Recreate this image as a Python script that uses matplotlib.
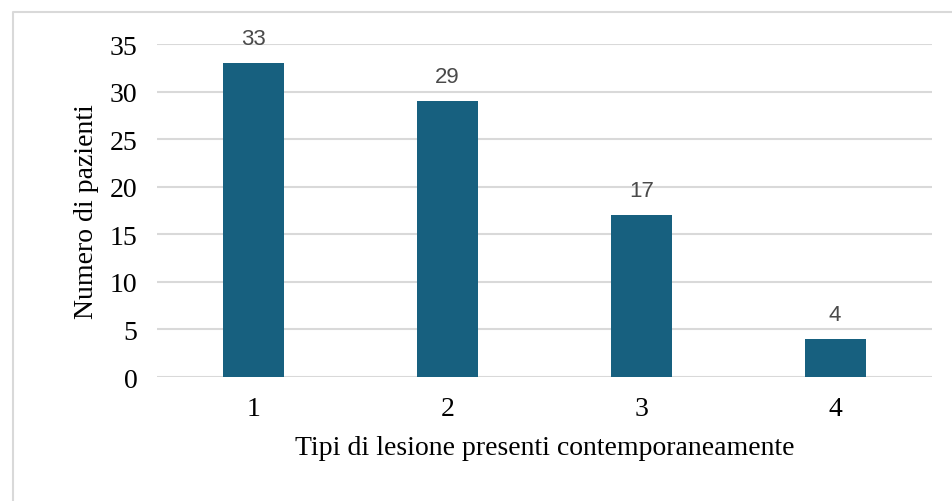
import matplotlib.pyplot as plt
from matplotlib.lines import Line2D

categorie = ['1', '2', '3', '4']
pazienti = [33, 29, 17, 4]
y_ticks = [0, 5, 10, 15, 20, 25, 30, 35]

fig = plt.figure(figsize=(9.52, 5.02), dpi=100)
ax = fig.add_axes([0.1649, 0.247, 0.8141, 0.663])

# cornice grigia (solo lato sinistro e superiore visibili)
bx, by = 12.5 / 952, 1 - 12.5 / 502
fig.lines.append(Line2D([bx, bx, 1.0], [0.0, by, by], transform=fig.transFigure,
                        color='#D9D9D9', linewidth=1.5))

x = range(len(categorie))
bars = ax.bar(x, pazienti, width=0.315, color='#17607F', zorder=3)

for b, v in zip(bars, pazienti):
    ax.annotate(str(v), (b.get_x() + b.get_width() / 2, v),
                xytext=(0, 10), textcoords='offset points',
                ha='center', va='bottom', fontsize=16,
                family='Liberation Sans', color='#4A4A4A')

ax.set_xlim(-0.5, 3.5)
ax.set_ylim(0, 35)
ax.set_yticks(y_ticks)
ax.set_xticks(list(x))
ax.set_xticklabels(categorie)
ax.yaxis.grid(True, color='#D9D9D9', linewidth=1.5, zorder=0)
ax.set_axisbelow(True)
for s in ax.spines.values():
    s.set_visible(False)
ax.tick_params(length=0, labelsize=20, pad=14)
for lab in ax.get_xticklabels() + ax.get_yticklabels():
    lab.set_family('Liberation Serif')

ax.set_xlabel('Tipi di lesione presenti contemporaneamente',
              family='Liberation Serif', fontsize=20, labelpad=10)
ax.set_ylabel('Numero di pazienti', family='Liberation Serif', fontsize=20,
              labelpad=8)

fig.savefig('out.png', dpi=100)
